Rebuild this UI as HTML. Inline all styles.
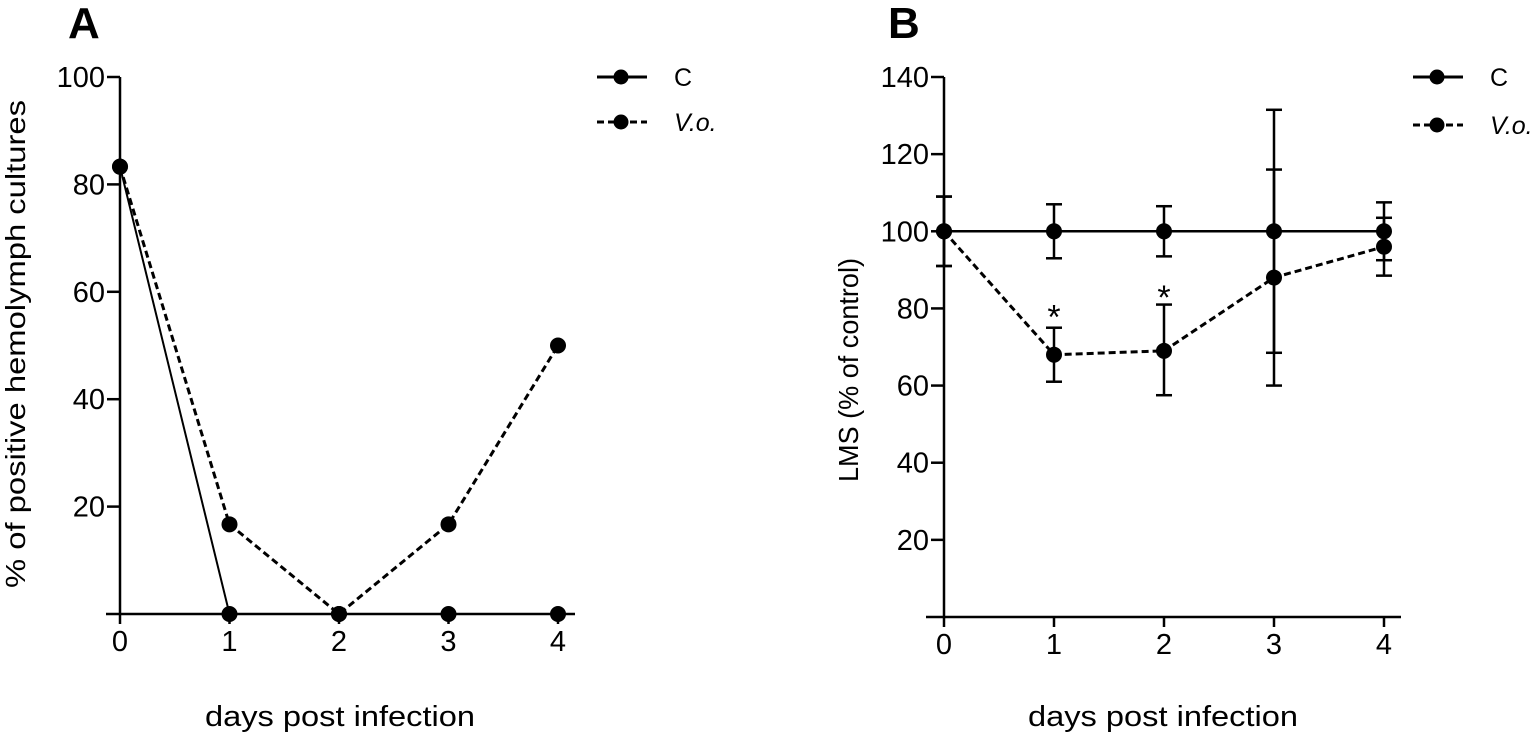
<!DOCTYPE html>
<html><head><meta charset="utf-8"><style>
html,body{margin:0;padding:0;background:#fff;}
svg{display:block;font-family:"Liberation Sans",Arial,sans-serif;}
</style></head><body>
<svg id="fig" width="1535" height="738" viewBox="0 0 1535 738"></svg>
<script>
const days = [0,1,2,3,4];
const aTicks = [20,40,60,80,100];
const aControl = [83.3,0,0,0,0];
const aVo = [83.3,16.7,0,16.7,50];
const bTicks = [20,40,60,80,100,120,140];
const bControl = [100,100,100,100,100];
const bControlLo = [91,93,93.5,68.5,92.5];
const bControlHi = [109,107,106.5,131.5,107.5];
const bVo = [100,68,69,88,96];
const bVoLo = [91,61,57.5,60,88.5];
const bVoHi = [109,75,81,116,103.5];
const bStars = [1,2];
const bStarVals = [80,85];

const NS='http://www.w3.org/2000/svg';
const svg=document.getElementById('fig');
function mk(tag,attrs,parent,text){const e=document.createElementNS(NS,tag);for(const k in attrs)e.setAttribute(k,attrs[k]);if(text!==undefined)e.textContent=text;(parent||svg).appendChild(e);return e;}

function panel(cfg){
  const g=mk('g',{});
  
  
  const xs=d=>cfg.x0+d*(cfg.x1-cfg.x0)/4;
  const ys=v=>cfg.y0-(v-0)*(cfg.y0-cfg.yTop)/cfg.yMax;
  const L=mk('text',{x:cfg.letterX,y:38,'font-size':44,'font-weight':'bold'},g,cfg.letter);
  
  
  const ya=mk('line',{x1:xs(0),y1:ys(cfg.yMax),x2:xs(0),y2:cfg.y0,stroke:'#000','stroke-width':2.5},g);
  
  
  const xa=mk('line',{x1:cfg.xAxisStart,y1:cfg.y0,x2:cfg.x1+17,y2:cfg.y0,stroke:'#000','stroke-width':2.5},g);
  
  
  cfg.ticks.forEach(t=>{
    mk('line',{x1:xs(0)-13,y1:ys(t),x2:xs(0),y2:ys(t),stroke:'#000','stroke-width':2.5},g);
    const tl=mk('text',{x:xs(0)-15,y:ys(t)+10,'font-size':29,'text-anchor':'end'},g,String(t));
    
    
  });
  days.forEach(d=>{
    mk('line',{x1:xs(d),y1:cfg.y0,x2:xs(d),y2:cfg.y0+10,stroke:'#000','stroke-width':2.5},g);
    const tl=mk('text',{x:xs(d),y:cfg.y0+37,'font-size':29,'text-anchor':'middle'},g,String(d));
    
    
  });
  const xt=mk('text',{x:cfg.xTitleX,y:726,'font-size':29,'text-anchor':'middle',textLength:270,lengthAdjust:'spacingAndGlyphs'},g,'days post infection');
  
  
  const yt=mk('text',{x:0,y:0,'font-size':28,'text-anchor':'middle',textLength:cfg.yTitleLen,lengthAdjust:'spacingAndGlyphs',transform:`translate(${cfg.yTitleX},${cfg.yTitleY}) rotate(-90)`},g,cfg.yTitle);
  
  
  function err(lo,hi,nm){
    if(!lo)return;
    days.forEach((d,i)=>{
      const eg=mk('g',{stroke:'#000','stroke-width':2.5},g);
      
      
      mk('line',{x1:xs(d),y1:ys(lo[i]),x2:xs(d),y2:ys(hi[i])},eg);
      mk('line',{x1:xs(d)-8,y1:ys(lo[i]),x2:xs(d)+8,y2:ys(lo[i])},eg);
      mk('line',{x1:xs(d)-8,y1:ys(hi[i]),x2:xs(d)+8,y2:ys(hi[i])},eg);
    });
  }
  err(cfg.cLo,cfg.cHi,'control');
  err(cfg.vLo,cfg.vHi,'vo');
  function series(vals,dash,nm,w){
    const p=mk('polyline',{points:vals.map((v,i)=>xs(days[i])+','+ys(v)).join(' '),fill:'none',stroke:'#000','stroke-width':w,'stroke-dasharray':dash||'none'},g);
    
    
    vals.forEach((v,i)=>{
      const c=mk('circle',{cx:xs(days[i]),cy:ys(v),r:8,fill:'#000'},g);
      
      
    });
  }
  series(cfg.c,null,'control',cfg.cw);
  series(cfg.v,'7 4','vo',3);
  if(cfg.stars){
    cfg.stars.forEach((d,i)=>{
      const s=mk('text',{x:xs(d),y:ys(cfg.starVals[i])+20,'font-size':34,'text-anchor':'middle'},g,'*');
      
      
    });
  }
  const lg=mk('g',{},g);
  
  
  [['C',null,cfg.legY1,'normal'],['V.o.','7 4',cfg.legY2,'italic']].forEach(([lab,dash,y,st])=>{
    const eg=mk('g',{},lg);
    
    
    mk('line',{x1:cfg.legX,y1:y,x2:cfg.legX+50,y2:y,stroke:'#000','stroke-width':3,'stroke-dasharray':dash||'none'},eg);
    mk('circle',{cx:cfg.legX+24,cy:y,r:7.5,fill:'#000'},eg);
    mk('text',{x:cfg.legX+77,y:y+9,'font-size':25,'font-style':st},eg,lab);
  });
}

panel({name:'panel-a',letter:'A',letterX:68,x0:120,x1:558,xAxisStart:106,y0:614,yTop:77,yMax:100,ticks:aTicks,
  c:aControl,v:aVo,cw:2,yTitle:'% of positive hemolymph cultures',yTitleX:25,yTitleY:344,yTitleLen:488,
  xTitleX:340,legX:597,legY1:77,legY2:122});
panel({name:'panel-b',letter:'B',letterX:888,x0:944,x1:1384,xAxisStart:926,y0:617,yTop:77,yMax:140,ticks:bTicks,
  c:bControl,v:bVo,cw:2.5,cLo:bControlLo,cHi:bControlHi,vLo:bVoLo,vHi:bVoHi,stars:bStars,starVals:bStarVals,
  yTitle:'LMS (% of control)',yTitleX:858,yTitleY:370,yTitleLen:224,xTitleX:1163,legX:1413,legY1:77,legY2:125});
</script>
</body></html>
